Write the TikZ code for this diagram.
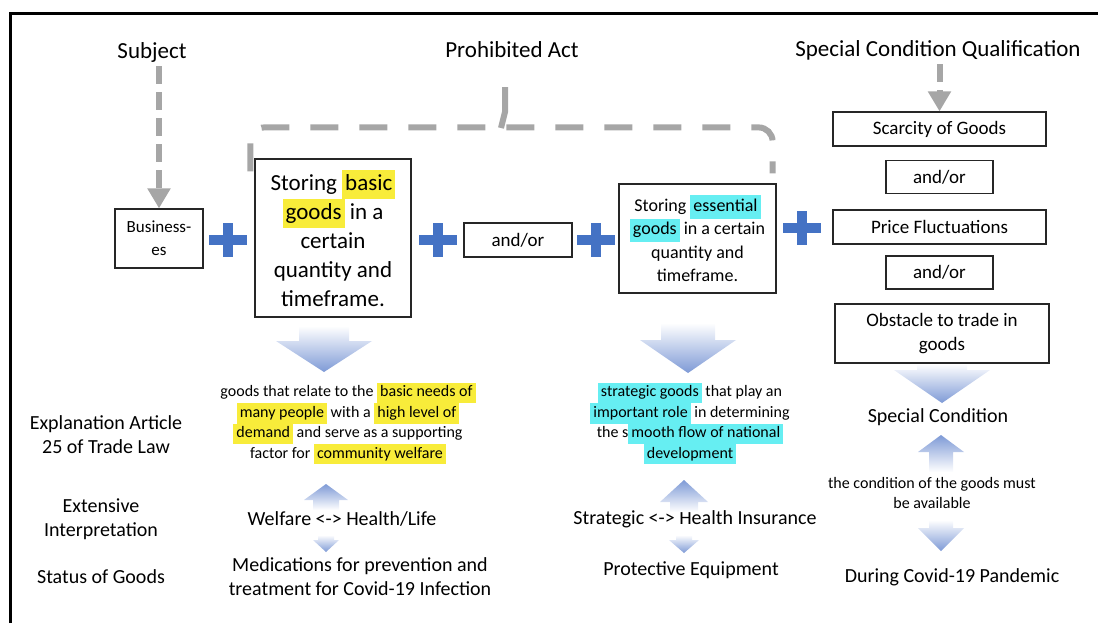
\documentclass[tikz,border=0pt]{standalone}
\usepackage{fontspec}
\setmainfont{Carlito}
\usepackage{xcolor}
\usepackage{tikz}
\usetikzlibrary{arrows.meta,calc,shapes}

\definecolor{plusblue}{HTML}{4472C4}
\definecolor{dashgray}{HTML}{A6A6A6}
\definecolor{arrowdark}{HTML}{7E9AD6}
\definecolor{arrowmid}{HTML}{B2C4EA}
\definecolor{hlyellow}{HTML}{F8EC3A}
\definecolor{hlcyan}{HTML}{66EEF2}

% word highlights
\newcommand{\hly}[1]{{\setlength{\fboxsep}{0pt}\colorbox{hlyellow}{\strut\hspace{1.5pt}#1\hspace{1.5pt}}}}
\newcommand{\hlc}[1]{{\setlength{\fboxsep}{0pt}\colorbox{hlcyan}{\strut\hspace{1.5pt}#1\hspace{1.5pt}}}}

% block arrows: centre x, shaft end, head base, tip, shaft half width, head half width
\newcommand{\blockdown}[6]{%
  \shade[top color=white, middle color=arrowmid, bottom color=arrowdark] (#1-#5,#2) -- (#1+#5,#2) -- (#1+#5,#3) -- (#1+#6,#3) -- (#1,#4) -- (#1-#6,#3) -- (#1-#5,#3) -- cycle;}
\newcommand{\blockup}[6]{%
  \shade[top color=arrowdark, middle color=arrowmid, bottom color=white] (#1-#5,#2) -- (#1+#5,#2) -- (#1+#5,#3) -- (#1+#6,#3) -- (#1,#4) -- (#1-#6,#3) -- (#1-#5,#3) -- cycle;}

\begin{document}
\begin{tikzpicture}[x=0.5pt, y=-0.5pt,
    every node/.style={inner sep=0pt},
    box/.style={draw=black!85, line width=0.6pt, align=center, inner sep=0pt},
    rbox/.style={box, minimum width=106.5pt, minimum height=17pt, font=\fontsize{9.5}{12}\selectfont},
    orbox/.style={box, minimum width=53.5pt, minimum height=16.5pt, font=\fontsize{9.5}{12}\selectfont},
    hdr/.style={font=\fontsize{11.5}{14}\selectfont},
    lbl/.style={align=center, font=\fontsize{10}{12}\selectfont},
    note/.style={align=center, font=\fontsize{8}{10.2}\selectfont},
    plussign/.style={plusblue, line width=5pt},
    dasharrow/.style={dashgray, line width=3pt, dash pattern=on 9pt off 4pt, -{Triangle[width=11pt,length=10pt]}},
    bracket/.style={dashgray, line width=3pt, dash pattern=on 14pt off 10.5pt, rounded corners=7pt}]
    \useasboundingbox (0,0) rectangle (1098,623);

    % frame
    \draw[line width=1.5pt] (10,623) -- (10,13) -- (1098,13);

    % headings
    \node[hdr] (subj) at (152,52) {Subject};
    \node[hdr] (prohib) at (512,50) {Prohibited Act};
    \node[hdr] (scq) at (938,50) {Special Condition Qualification};

    % top row
    \node[box, minimum width=44pt, minimum height=29.5pt, font=\fontsize{8.5}{11.5}\selectfont] (biz) at (159,238.5) {Business-\\es};
    \node[box, minimum width=78pt, minimum height=79pt, font=\fontsize{11.5}{14.5}\selectfont] (basic) at (333,238) {Storing \hly{basic}\\\hly{goods} in a\\certain\\quantity and\\timeframe.};
    \node[box, minimum width=54pt, minimum height=17pt, font=\fontsize{9.5}{12}\selectfont] (andor) at (518,240) {and/or};
    \node[box, minimum width=78.5pt, minimum height=54.5pt, font=\fontsize{9}{11.7}\selectfont] (ess) at (697.5,238.5) {Storing \hlc{essential}\\\hlc{goods} in a certain\\quantity and\\timeframe.};

    % right column
    \node[rbox] (scarce) at (939.5,129) {Scarcity of Goods};
    \node[orbox] (or1) at (939.5,177) {and/or};
    \node[rbox] (price) at (939.5,227) {Price Fluctuations};
    \node[orbox] (or2) at (939.5,272.5) {and/or};
    \node[box, minimum width=107pt, minimum height=29.5pt, font=\fontsize{9.5}{12}\selectfont] (obst) at (942,333.5) {Obstacle to trade in\\goods};

    % plus signs
    \foreach \px/\py in {228/240, 438/240, 596/240, 802/228} {
        \draw[plussign] (\px-19,\py) -- (\px+19,\py) (\px,\py-17) -- (\px,\py+17);
    }

    % dashed pointers
    \draw[dasharrow, shorten <=2pt] (biz.north |- subj.south) -- (biz.north);
    \draw[dasharrow, shorten <=2pt] (scarce.north |- scq.south) -- (scarce.north);
    \draw[bracket] ($(basic.north west)+(-4,13)$) -- ($(basic.north west)+(-4,-31)$) -- ($(ess.north east)+(-4,-56)$) -- ($(ess.north east)+(-4,-10)$);
    \coordinate (stub) at (505,87);
    \draw[dashgray, line width=3pt] (stub) -- ++(0,25) -- ++(-4,16);

    % explanation texts
    \node[note] (basicdef) at (348,423.5) {goods that relate to the \hly{basic needs of}\\\hly{many people} with a \hly{high level of}\\\hly{demand} and serve as a supporting\\factor for \hly{community welfare}};
    \node[note] (essdef) at (690,423.5) {\hlc{strategic goods} that play an\\\hlc{important role} in determining\\the s\hlc{mooth flow of national}\\\hlc{development}};

    % row labels
    \node[lbl] (expl) at (106,434.5) {Explanation Article\\25 of Trade Law};
    \node[lbl] (ext) at (101,519.5) {Extensive\\Interpretation};
    \node[lbl] (status) at (101,577) {Status of Goods};

    % interpretation and status
    \node[lbl] (welfare) at (342,519) {Welfare <-> Health/Life};
    \node[lbl] (medic) at (360,577) {Medications for prevention and\\treatment for Covid-19 Infection};
    \node[lbl] (strat) at (695,519) {Strategic <-> Health Insurance};
    \node[lbl] (protect) at (691,570) {Protective Equipment};
    \node[lbl] (specond) at (938,417) {Special Condition};
    \node[note] (avail) at (932,493) {the condition of the goods must\\be available};
    \node[lbl] (during) at (952,577) {During Covid-19 Pandemic};

    % block arrows
    \blockdown{324}{326}{341}{372}{25}{48}
    \blockdown{688}{323}{340}{373}{27}{48}
    \blockdown{942}{364}{370}{403}{25}{48}
    \blockup{326}{510}{500}{484}{13}{22}
    \blockup{684}{512}{502}{480}{14}{24}
    \blockup{941}{472}{452}{435}{12}{23}
    \blockdown{326}{535}{540}{552}{8}{13}
    \blockdown{684}{535}{540}{553}{8}{15}
    \blockdown{941}{520}{528}{551}{12}{23}
\end{tikzpicture}
\end{document}
